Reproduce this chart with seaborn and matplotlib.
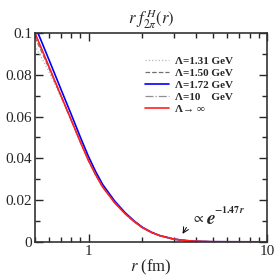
import numpy as np
import pandas as pd
import matplotlib
matplotlib.use("Agg")
import matplotlib.pyplot as plt
from matplotlib.ticker import LogLocator, NullFormatter
import seaborn as sns

# values
r = [0.5, 0.55, 0.6, 0.65, 0.7, 0.8, 0.9, 1.0, 1.1, 1.2, 1.4, 1.6, 1.8, 2.0, 2.25, 2.5, 3.0, 3.5, 4.0, 5.0, 7.0, 10.0]
f_inf = [0.1000, 0.0916, 0.0838, 0.0766, 0.0700, 0.0582, 0.0477, 0.0388, 0.0318, 0.0262, 0.0187, 0.0135,
         0.0097, 0.0068, 0.0045, 0.0030, 0.0013, 0.0006, 0.00025, 0.00005, 0.00001, 0.0]
f_172 = [0.1035, 0.0950, 0.0871, 0.0798, 0.0730, 0.0609, 0.0500, 0.0407, 0.0333, 0.0274, 0.0195, 0.0140,
         0.0100, 0.0070, 0.0046, 0.0030, 0.0013, 0.0006, 0.00025, 0.00005, 0.00001, 0.0]
f_150 = [0.0980, 0.0903, 0.0830, 0.0762, 0.0698, 0.0582, 0.0477, 0.0388, 0.0318, 0.0262, 0.0187, 0.0135,
         0.0097, 0.0068, 0.0045, 0.0030, 0.0013, 0.0006, 0.00025, 0.00005, 0.00001, 0.0]
f_131 = [0.0940, 0.0875, 0.0812, 0.0752, 0.0692, 0.0580, 0.0477, 0.0388, 0.0318, 0.0262, 0.0187, 0.0135,
         0.0097, 0.0068, 0.0045, 0.0030, 0.0013, 0.0006, 0.00025, 0.00005, 0.00001, 0.0]
f_10 = f_inf

labels = ["Λ=1.31 GeV", "Λ=1.50 GeV", "Λ=1.72 GeV", "Λ=10    GeV", "Λ→ ∞"]
series = [f_131, f_150, f_172, f_10, f_inf]
colors = ["#b8b8b8", "#707070", "#0000ff", "#909090", "#ff2020"]
styles = [":", "--", "-", "-.", "-"]
widths = [0.9, 0.9, 1.2, 0.9, 1.2]

sns.set_style("ticks")
plt.rcParams["font.family"] = ["Liberation Serif", "DejaVu Serif"]
plt.rcParams["mathtext.fontset"] = "stix"

fig = plt.figure(figsize=(2.77, 2.77), dpi=100)
ax = fig.add_axes([0.126, 0.127, 0.838, 0.754])

for lab, vals, c, ls, lw in zip(labels, series, colors, styles, widths):
    df = pd.DataFrame({"r": r, "f": vals})
    sns.lineplot(data=df, x="r", y="f", ax=ax, color=c, linestyle=ls, linewidth=lw, label=lab)

ax.set_xscale("log")
ax.set_xlim(0.5, 10)
ax.set_ylim(0, 0.1)
ax.set_xticks([1, 10])
ax.set_xticklabels(["1", "10"])
ax.xaxis.set_minor_locator(LogLocator(base=10, subs=np.arange(2, 10)))
ax.xaxis.set_minor_formatter(NullFormatter())
ax.set_yticks([0, 0.02, 0.04, 0.06, 0.08, 0.1])
ax.set_yticklabels(["0", "0.02", "0.04", "0.06", "0.08", "0.1"])
ax.set_yticks(np.arange(0.01, 0.1, 0.02), minor=True)
ax.tick_params(which="both", direction="in", top=True, right=True, labelsize=11, pad=2)
ax.tick_params(which="major", length=6, width=1)
ax.tick_params(which="minor", length=3.8, width=1)
for s in ax.spines.values():
    s.set_linewidth(1.2)
    s.set_color("#333333")

ax.set_xlabel(r"$r$ (fm)", fontsize=12, labelpad=0)
ax.set_ylabel("")
ax.set_title(r"$r\ f^{\,H}_{2\pi}(r)$", fontsize=12, pad=6)

leg = ax.legend(loc="upper left", bbox_to_anchor=(0.474, 0.89), frameon=False,
                borderaxespad=0, borderpad=0,
                prop={"weight": "bold", "size": 8}, handlelength=2.2,
                labelspacing=0.2, handletextpad=0.55)

ax.annotate("", xy=(3.3, 0.0027), xytext=(3.6, 0.008),
            arrowprops=dict(arrowstyle="->", color="black", lw=0.7))
ax.text(3.75, 0.0095, r"$\propto$", fontsize=10)
ax.text(4.55, 0.0085, r"$\boldsymbol{e}$", fontsize=14)
ax.text(5.05, 0.0140, r"$\mathbf{-1.47}\,\boldsymbol{r}$", fontsize=7)

fig.savefig("out.png", dpi=100)
